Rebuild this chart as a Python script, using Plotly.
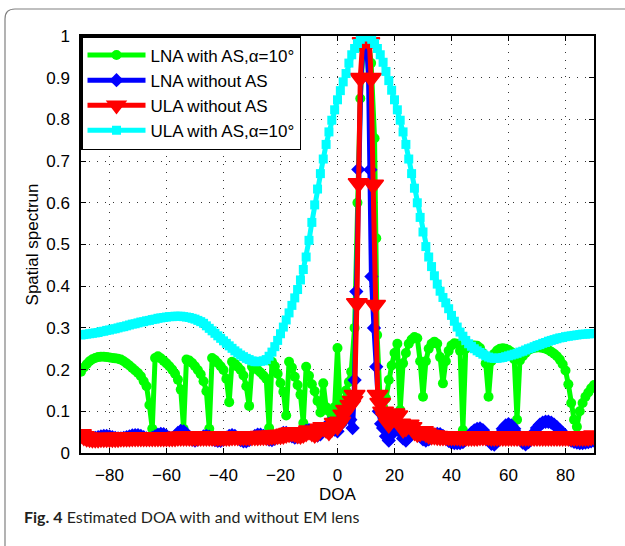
import plotly.graph_objects as go

# ---------------------------------------------------------------- data
doa = list(range(-90, 91))

# ULA with AS, alpha = 10 deg (one value per degree, -90..90)
ula_as_val = [
    0.283, 0.284, 0.285, 0.286, 0.287, 0.288, 0.289, 0.291, 0.292, 0.294,
    0.295, 0.297, 0.298, 0.300, 0.302, 0.303, 0.305, 0.307, 0.309, 0.310,
    0.312, 0.314, 0.315, 0.317, 0.318, 0.320, 0.321, 0.323, 0.324, 0.325,
    0.326, 0.327, 0.327, 0.328, 0.328, 0.328, 0.327, 0.326, 0.325, 0.323,
    0.321, 0.318, 0.315, 0.311, 0.305, 0.299, 0.293, 0.287, 0.281, 0.275,
    0.269, 0.263, 0.257, 0.251, 0.245, 0.240, 0.235, 0.231, 0.227, 0.224,
    0.221, 0.219, 0.219, 0.220, 0.221, 0.224, 0.232, 0.242, 0.255, 0.270,
    0.286, 0.302, 0.319, 0.336, 0.354, 0.372, 0.392, 0.415, 0.440, 0.470,
    0.510, 0.553, 0.595, 0.633, 0.670, 0.705, 0.740, 0.770, 0.798, 0.823,
    0.847, 0.869, 0.890, 0.910, 0.935, 0.955, 0.970, 0.982, 0.992, 0.998,
    1.000, 0.998, 0.992, 0.982, 0.970, 0.955, 0.937, 0.915, 0.893, 0.870,
    0.847, 0.823, 0.798, 0.770, 0.740, 0.705, 0.670, 0.635, 0.600, 0.565,
    0.530, 0.495, 0.470, 0.447, 0.425, 0.405, 0.388, 0.373, 0.360, 0.346,
    0.330, 0.316, 0.302, 0.290, 0.280, 0.270, 0.262, 0.256, 0.250, 0.245,
    0.241, 0.237, 0.233, 0.230, 0.228, 0.227, 0.227, 0.228, 0.229, 0.231,
    0.233, 0.235, 0.237, 0.239, 0.242, 0.244, 0.247, 0.250, 0.252, 0.255,
    0.258, 0.260, 0.263, 0.265, 0.268, 0.270, 0.272, 0.274, 0.276, 0.277,
    0.279, 0.280, 0.281, 0.282, 0.283, 0.284, 0.285, 0.285, 0.286, 0.286,
    0.287,
]

# LNA with AS, alpha = 10 deg
lna_as_left = [  # -90 .. 3
    0.195, 0.205, 0.213, 0.220, 0.225, 0.228, 0.230, 0.231, 0.231, 0.230,
    0.229, 0.228, 0.227, 0.226, 0.224, 0.220, 0.215, 0.210, 0.204, 0.198,
    0.192, 0.184, 0.172, 0.160, 0.115, 0.058, 0.228, 0.232, 0.227, 0.221,
    0.215, 0.208, 0.200, 0.190, 0.176, 0.152, 0.058, 0.224, 0.222, 0.216,
    0.208, 0.199, 0.189, 0.172, 0.148, 0.058, 0.228, 0.223, 0.216, 0.208,
    0.199, 0.178, 0.122, 0.219, 0.214, 0.207, 0.199, 0.186, 0.160, 0.113,
    0.207, 0.204, 0.199, 0.193, 0.186, 0.178, 0.060, 0.219, 0.208, 0.190,
    0.168, 0.147, 0.090, 0.219, 0.205, 0.183, 0.163, 0.140, 0.072, 0.207,
    0.185, 0.165, 0.148, 0.125, 0.097, 0.167, 0.110, 0.100, 0.085, 0.110,
    0.252, 0.095, 0.120, 0.150,
]
lna_as_peak_doa = [4.0, 4.8, 6.0, 7.0, 8.0, 9.0, 10.0, 11.0, 11.8, 13.0, 13.6, 13.9, 15.0]
lna_as_peak_val = [0.170, 0.195, 0.300, 0.600, 0.850, 0.970, 1.000, 0.980, 0.935, 0.755, 0.515, 0.283, 0.120]
lna_as_right = [  # 16 .. 90
    0.110, 0.131, 0.175, 0.210, 0.240, 0.262, 0.103, 0.215, 0.240, 0.262,
    0.272, 0.278, 0.275, 0.220, 0.135, 0.220, 0.250, 0.262, 0.267, 0.262,
    0.230, 0.167, 0.220, 0.245, 0.258, 0.263, 0.262, 0.245, 0.055, 0.250,
    0.257, 0.258, 0.258, 0.257, 0.252, 0.240, 0.215, 0.135, 0.220, 0.238,
    0.246, 0.250, 0.251, 0.250, 0.247, 0.242, 0.225, 0.080, 0.222, 0.232,
    0.240, 0.247, 0.250, 0.252, 0.253, 0.253, 0.252, 0.250, 0.247, 0.243,
    0.238, 0.232, 0.224, 0.213, 0.198, 0.165, 0.120, 0.080, 0.063, 0.100,
    0.120, 0.135, 0.145, 0.155, 0.163,
]

# LNA without AS
lna_left = [  # -90 .. 3
    0.040, 0.036, 0.034, 0.033, 0.034, 0.036, 0.038, 0.040, 0.041, 0.041,
    0.040, 0.038, 0.036, 0.035, 0.035, 0.036, 0.038, 0.040, 0.042, 0.043,
    0.043, 0.041, 0.038, 0.035, 0.034, 0.036, 0.040, 0.044, 0.046, 0.045,
    0.041, 0.036, 0.035, 0.040, 0.048, 0.053, 0.052, 0.046, 0.038, 0.032,
    0.030, 0.032, 0.036, 0.040, 0.041, 0.039, 0.035, 0.031, 0.029, 0.029,
    0.032, 0.037, 0.041, 0.043, 0.041, 0.036, 0.031, 0.028, 0.028, 0.031,
    0.036, 0.041, 0.044, 0.044, 0.041, 0.036, 0.032, 0.031, 0.034, 0.039,
    0.044, 0.048, 0.048, 0.045, 0.040, 0.037, 0.038, 0.042, 0.048, 0.053,
    0.055, 0.052, 0.046, 0.042, 0.045, 0.054, 0.064, 0.070, 0.066, 0.056,
    0.052, 0.068, 0.088, 0.100,
]
lna_peak_doa = [4.5, 5.3, 6.0, 6.6, 7.3, 8.2, 9.1, 10.0, 10.9, 11.5, 11.9, 12.8, 13.6, 14.5, 15.3]
lna_peak_val = [0.080, 0.060, 0.175, 0.387, 0.680, 0.900, 0.980, 1.000, 0.900, 0.679, 0.423, 0.300, 0.207, 0.100, 0.070]
lna_right = [  # 16 .. 90
    0.060, 0.040, 0.030, 0.045, 0.060, 0.062, 0.050, 0.035, 0.030, 0.038,
    0.048, 0.052, 0.048, 0.040, 0.033, 0.030, 0.033, 0.039, 0.044, 0.046,
    0.045, 0.041, 0.035, 0.029, 0.025, 0.024, 0.024, 0.024, 0.026, 0.032,
    0.040, 0.048, 0.054, 0.058, 0.059, 0.055, 0.046, 0.034, 0.022, 0.020,
    0.030, 0.045, 0.058, 0.066, 0.069, 0.066, 0.058, 0.046, 0.034, 0.025,
    0.021, 0.026, 0.037, 0.049, 0.060, 0.068, 0.073, 0.075, 0.075, 0.073,
    0.068, 0.062, 0.055, 0.048, 0.041, 0.035, 0.030, 0.027, 0.025, 0.024,
    0.024, 0.025, 0.026, 0.028, 0.030,
]

# ULA without AS
ula_left = [  # -90 .. 3
    0.045, 0.040, 0.037, 0.036, 0.035, 0.035, 0.035, 0.036, 0.036, 0.036,
    0.036, 0.036, 0.036, 0.036, 0.037, 0.037, 0.037, 0.037, 0.038, 0.038,
    0.038, 0.038, 0.038, 0.038, 0.038, 0.038, 0.038, 0.038, 0.038, 0.038,
    0.038, 0.038, 0.038, 0.038, 0.039, 0.039, 0.039, 0.039, 0.039, 0.039,
    0.039, 0.039, 0.039, 0.039, 0.039, 0.039, 0.039, 0.039, 0.039, 0.039,
    0.039, 0.039, 0.039, 0.040, 0.040, 0.040, 0.040, 0.040, 0.040, 0.040,
    0.040, 0.040, 0.040, 0.041, 0.041, 0.041, 0.041, 0.042, 0.042, 0.043,
    0.043, 0.044, 0.046, 0.048, 0.050, 0.048, 0.045, 0.044, 0.046, 0.050,
    0.054, 0.050, 0.046, 0.050, 0.058, 0.062, 0.058, 0.052, 0.060, 0.072,
    0.065, 0.075, 0.092, 0.103,
]
ula_peak_doa = [4.5, 5.3, 6.0, 6.8, 7.4, 8.0, 8.8, 10.0, 11.2, 11.8, 12.5, 13.2, 14.1, 15.0, 16.0]
ula_peak_val = [0.115, 0.125, 0.139, 0.359, 0.647, 0.899, 0.985, 1.000, 0.985, 0.899, 0.643, 0.355, 0.139, 0.120, 0.099]
ula_right = [  # 17 .. 90
    0.085, 0.070, 0.080, 0.095, 0.090, 0.070, 0.058, 0.062, 0.068, 0.062,
    0.052, 0.048, 0.050, 0.052, 0.048, 0.044, 0.042, 0.042, 0.041, 0.040,
    0.040, 0.040, 0.040, 0.040, 0.040, 0.040, 0.039, 0.039, 0.039, 0.039,
    0.039, 0.039, 0.039, 0.040, 0.040, 0.040, 0.040, 0.039, 0.039, 0.039,
    0.039, 0.039, 0.039, 0.039, 0.039, 0.039, 0.039, 0.039, 0.039, 0.039,
    0.039, 0.039, 0.039, 0.039, 0.039, 0.039, 0.039, 0.039, 0.039, 0.039,
    0.039, 0.039, 0.039, 0.039, 0.039, 0.039, 0.039, 0.039, 0.039, 0.039,
    0.039, 0.039, 0.040, 0.042,
]

x_ticks = [-80, -60, -40, -20, 0, 20, 40, 60, 80]
y_ticks = [0, 0.1, 0.2, 0.3, 0.4, 0.5, 0.6, 0.7, 0.8, 0.9, 1]
y_tick_text = ["0", "0.1", "0.2", "0.3", "0.4", "0.5", "0.6", "0.7", "0.8", "0.9", "1"]

names = ["LNA with AS,α=10°", "LNA without AS", "ULA without AS", "ULA with AS,α=10°"]

# assemble each series' abscissa: integer grid on the sides, finer points around the peak
lna_as_doa = list(range(-90, 4)) + lna_as_peak_doa + list(range(16, 91))
lna_as_all = lna_as_left + lna_as_peak_val + lna_as_right
lna_doa = list(range(-90, 4)) + lna_peak_doa + list(range(16, 91))
lna_all = lna_left + lna_peak_val + lna_right
ula_doa = list(range(-90, 4)) + ula_peak_doa + list(range(17, 91))
ula_all = ula_left + ula_peak_val + ula_right

# ---------------------------------------------------------------- figure
W, H = 625, 546
ML, MR, MT, MB = 81, 31, 36, 93
PW, PH = W - ML - MR, H - MT - MB


def px(x):
    return (x - ML) / PW


def py(y):
    return (H - MB - y) / PH


FONT = "Liberation Sans, Arial, sans-serif"
LW = 5

fig = go.Figure()
fig.add_trace(go.Scatter(
    x=lna_as_doa, y=lna_as_all, name=names[0], mode="lines+markers",
    line=dict(color="rgb(0,255,0)", width=LW),
    marker=dict(symbol="circle", size=10, color="rgb(0,255,0)"),
))
fig.add_trace(go.Scatter(
    x=lna_doa, y=lna_all, name=names[1], mode="lines+markers",
    line=dict(color="rgb(0,0,255)", width=LW),
    marker=dict(symbol="diamond", size=11, color="rgb(0,0,255)"),
))
fig.add_trace(go.Scatter(
    x=ula_doa, y=ula_all, name=names[2], mode="lines+markers",
    line=dict(color="rgb(255,0,0)", width=LW),
    marker=dict(symbol="triangle-down", size=18, color="rgb(255,0,0)",
                line=dict(color="rgb(255,0,0)", width=1.5)),
))
fig.add_trace(go.Scatter(
    x=doa, y=ula_as_val, name=names[3], mode="lines+markers",
    line=dict(color="rgb(0,255,255)", width=LW),
    marker=dict(symbol="square", size=9, color="rgb(0,255,255)"),
))

axis_common = dict(
    showline=True, linecolor="black", linewidth=1.5, mirror="ticks",
    ticks="inside", ticklen=5, tickwidth=1, tickcolor="black",
    showgrid=True, gridcolor="#333333", gridwidth=1, griddash="1px,7px",
    zeroline=False, tickfont=dict(family=FONT, size=17, color="black"),
)

fig.update_xaxes(
    range=[-90, 90], tickvals=x_ticks, ticklabelstandoff=6,
    title=dict(text="DOA", font=dict(family=FONT, size=17, color="black"), standoff=4),
    **axis_common,
)
fig.update_yaxes(
    range=[0, 1], tickvals=y_ticks, ticktext=y_tick_text, ticklabelstandoff=6,
    title=dict(text="Spatial spectrun", font=dict(family=FONT, size=17, color="black"), standoff=3),
    **axis_common,
)

# rounded outer frame around the figure
r = 10
frame = (f"M {px(5)},{py(600)} L {px(5)},{py(9 + r)} "
         f"Q {px(5)},{py(9)} {px(5 + r)},{py(9)} L {px(700)},{py(9)}")

fig.update_layout(
    width=W, height=H,
    margin=dict(l=ML, r=MR, t=MT, b=MB),
    paper_bgcolor="white", plot_bgcolor="white",
    showlegend=True,
    legend=dict(
        x=0, y=1, xanchor="left", yanchor="top",
        bgcolor="white", bordercolor="black", borderwidth=1.5,
        font=dict(family=FONT, size=17, color="black"),
        itemwidth=58, tracegroupgap=0,
    ),
    shapes=[dict(type="path", xref="paper", yref="paper", path=frame,
                 line=dict(color="#808080", width=1.2))],
    annotations=[dict(
        xref="paper", yref="paper", x=px(22), y=py(516),
        xanchor="left", yanchor="middle", showarrow=False,
        text="<b>Fig. 4</b> Estimated DOA with and without EM lens",
        font=dict(family="Lato, Open Sans, sans-serif", size=16, color="#231f20"),
    )],
)

fig.write_html("out.html")
